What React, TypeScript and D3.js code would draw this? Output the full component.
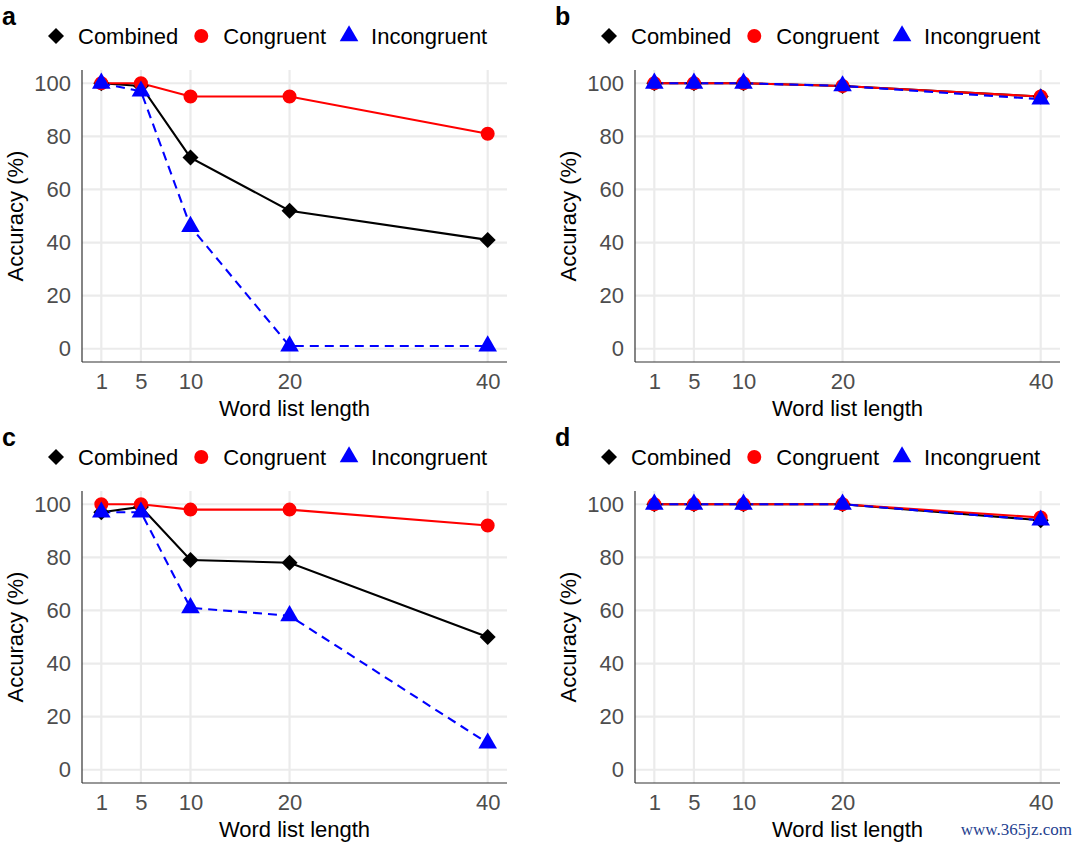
import * as d3 from "d3";
import { useEffect, useRef } from "react";

// word list lengths on the x axis
const wordListLengths = [1, 5, 10, 20, 40];
const yTicks = [0, 20, 40, 60, 80, 100];
const seriesNames = ["Combined", "Congruent", "Incongruent"];
const panelLetters = ["a", "b", "c", "d"];

// accuracy (%) per panel
const combinedA = [100, 99, 72, 52, 41];
const congruentA = [100, 100, 95, 95, 81];
const incongruentA = [100, 97, 46, 1, 1];

const combinedB = [100, 100, 100, 99, 95];
const congruentB = [100, 100, 100, 99, 95];
const incongruentB = [100, 100, 100, 99, 94];

const combinedC = [97, 99, 79, 78, 50];
const congruentC = [100, 100, 98, 98, 92];
const incongruentC = [97, 97, 61, 58, 10];

const combinedD = [100, 100, 100, 100, 94];
const congruentD = [100, 100, 100, 100, 95];
const incongruentD = [100, 100, 100, 100, 94];

const panelSeries = [
  [combinedA, congruentA, incongruentA],
  [combinedB, congruentB, incongruentB],
  [combinedC, congruentC, incongruentC],
  [combinedD, congruentD, incongruentD],
];

const colors = ["#000000", "#FF0000", "#0000FF"];
const dashes = [null, null, "9,6"];
const symbols = [d3.symbolSquare, d3.symbolCircle, d3.symbolTriangle];
const symbolSizes = [128, 154, 150];
const symbolRotate = [45, 0, 0];

const FONT = "'Liberation Sans', Arial, Helvetica, sans-serif";

export default function App() {
  const svgRef = useRef<SVGSVGElement | null>(null);
  useEffect(() => {
    if (!svgRef.current) return;
    drawPanels(svgRef.current);
  }, []);
  return (
    <svg
      ref={svgRef}
      width={1080}
      height={845}
      style={{ position: "absolute", left: 0, top: 0, background: "#fff" }}
    />
  );
}

function drawPanels(svgElement: SVGSVGElement) {
  const svg = d3.select(svgElement);
  svg.selectAll("*").remove();
  svg.style("font-family", FONT);

  svg
    .append("rect")
    .attr("width", 1080)
    .attr("height", 845)
    .attr("fill", "#ffffff");

  panelSeries.forEach((series, i) => {
    const ox = (i % 2) * 553;
    const oy = Math.floor(i / 2) * 421;
    const g = svg.append("g").attr("transform", `translate(${ox},${oy})`);

    const left = 82;
    const right = 507;
    const top = 70;
    const bottom = 362;

    const x = d3.scaleLinear().domain([-0.95, 41.95]).range([left, right]);
    const y = d3.scaleLinear().domain([-5, 105]).range([bottom, top]);

    // --- Gridlines ---
    g.append("g")
      .selectAll("line")
      .data(yTicks)
      .join("line")
      .attr("x1", left)
      .attr("x2", right)
      .attr("y1", d => y(d))
      .attr("y2", d => y(d))
      .attr("stroke", "#EBEBEB")
      .attr("stroke-width", 2.2);

    g.append("g")
      .selectAll("line")
      .data(wordListLengths)
      .join("line")
      .attr("x1", d => x(d))
      .attr("x2", d => x(d))
      .attr("y1", top)
      .attr("y2", bottom)
      .attr("stroke", "#EBEBEB")
      .attr("stroke-width", 2.2);

    // --- Axis lines ---
    g.append("line")
      .attr("x1", left)
      .attr("x2", left)
      .attr("y1", top)
      .attr("y2", bottom)
      .attr("stroke", "#333")
      .attr("stroke-width", 1.2);
    g.append("line")
      .attr("x1", left)
      .attr("x2", right)
      .attr("y1", bottom)
      .attr("y2", bottom)
      .attr("stroke", "#333")
      .attr("stroke-width", 1.2);

    // --- Tick labels ---
    const yAxis = g
      .append("g")
      .attr("transform", `translate(${left},0)`)
      .call(d3.axisLeft(y).tickValues(yTicks).tickSize(0).tickPadding(11));
    yAxis.select(".domain").remove();
    yAxis
      .selectAll("text")
      .style("font-size", "22px")
      .style("font-family", FONT)
      .style("fill", "#4D4D4D");

    const xAxis = g
      .append("g")
      .attr("transform", `translate(0,${bottom})`)
      .call(d3.axisBottom(x).tickValues(wordListLengths).tickSize(0).tickPadding(11).tickFormat(d3.format("d")));
    xAxis.select(".domain").remove();
    xAxis
      .selectAll("text")
      .style("font-size", "22px")
      .style("font-family", FONT)
      .style("fill", "#4D4D4D");

    // --- Axis titles ---
    g.append("text")
      .attr("x", (left + right) / 2)
      .attr("y", 416)
      .attr("text-anchor", "middle")
      .style("font-size", "22px")
      .attr("fill", "#000")
      .text("Word list length");

    g.append("text")
      .attr("transform", `translate(23,${(top + bottom) / 2}) rotate(-90)`)
      .attr("text-anchor", "middle")
      .style("font-size", "22px")
      .attr("fill", "#000")
      .text("Accuracy (%)");

    // --- Lines ---
    const line = d3
      .line<number>()
      .x((_, j) => x(wordListLengths[j]))
      .y(d => y(d));

    series.forEach((vals, s) => {
      g.append("path")
        .datum(vals)
        .attr("d", line)
        .attr("fill", "none")
        .attr("stroke", colors[s])
        .attr("stroke-width", 2.1)
        .attr("stroke-dasharray", dashes[s]);
    });

    // --- Points ---
    series.forEach((vals, s) => {
      g.append("g")
        .selectAll("path")
        .data(vals)
        .join("path")
        .attr("d", d3.symbol().type(symbols[s]).size(symbolSizes[s])())
        .attr(
          "transform",
          (d, j) => `translate(${x(wordListLengths[j])},${y(d)}) rotate(${symbolRotate[s]})`
        )
        .attr("fill", colors[s]);
    });

    // --- Legend ---
    let cx = 56;
    seriesNames.forEach((name, s) => {
      g.append("path")
        .attr("d", d3.symbol().type(symbols[s]).size(symbolSizes[s])())
        .attr("transform", `translate(${cx},36) rotate(${symbolRotate[s]})`)
        .attr("fill", colors[s]);
      const t = g
        .append("text")
        .attr("x", cx + 22)
        .attr("y", 44)
        .style("font-size", "22px")
        .attr("fill", "#000")
        .text(name);
      const w = (t.node() as SVGTextElement).getComputedTextLength();
      cx = cx + 22 + w + 23;
    });

    // --- Panel letter ---
    g.append("text")
      .attr("x", 2)
      .attr("y", 25)
      .style("font-size", "25px")
      .style("font-weight", "bold")
      .attr("fill", "#000")
      .text(panelLetters[i]);
  });

  // site watermark in the bottom-right corner
  svg
    .append("text")
    .attr("x", 1072)
    .attr("y", 835)
    .attr("text-anchor", "end")
    .style("font-family", "'Liberation Serif', 'DejaVu Serif', serif")
    .style("font-size", "17px")
    .attr("fill", "#1F3F8F")
    .text("www.365jz.com");
}
